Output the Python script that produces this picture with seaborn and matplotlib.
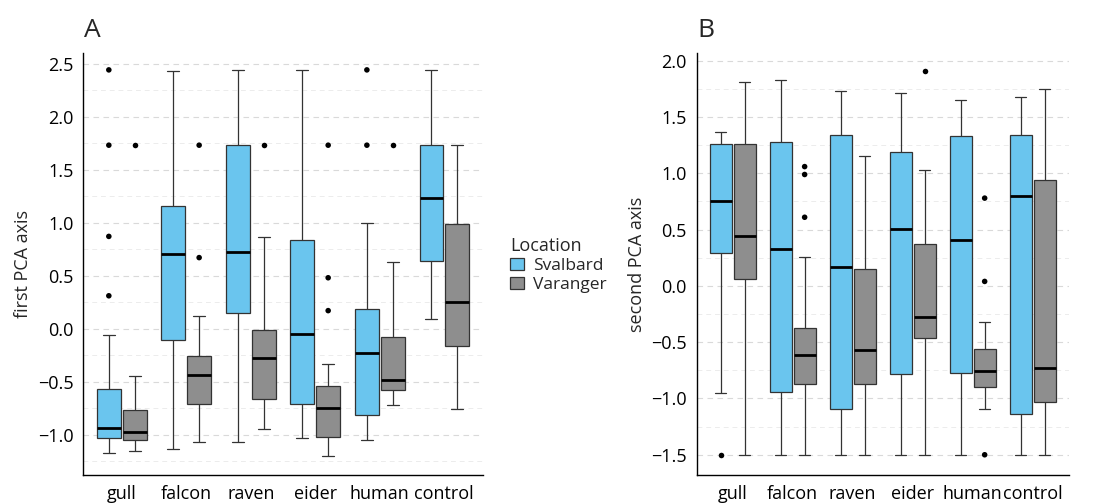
import numpy as np
import pandas as pd
import matplotlib
matplotlib.use("Agg")
import matplotlib.pyplot as plt
from matplotlib.ticker import MultipleLocator
from matplotlib.patches import Patch
import seaborn as sns

categories = ["gull", "falcon", "raven", "eider", "human", "control"]
locations = ["Svalbard", "Varanger"]

# Panel A (first PCA axis): five-number summaries per category
a_sv_lo  = [-1.17, -1.13, -1.07, -1.03, -1.05, 0.09]
a_sv_q1  = [-1.03, -0.11, 0.15, -0.71, -0.81, 0.64]
a_sv_med = [-0.94, 0.70, 0.72, -0.05, -0.23, 1.23]
a_sv_q3  = [-0.57, 1.16, 1.73, 0.84, 0.19, 1.73]
a_sv_hi  = [-0.06, 2.43, 2.44, 2.44, 1.00, 2.44]

a_va_lo  = [-1.15, -1.07, -0.95, -1.20, -0.72, -0.76]
a_va_q1  = [-1.05, -0.71, -0.66, -1.02, -0.58, -0.16]
a_va_med = [-0.97, -0.44, -0.28, -0.75, -0.48, 0.25]
a_va_q3  = [-0.77, -0.26, -0.01, -0.54, -0.08, 0.99]
a_va_hi  = [-0.45, 0.12, 0.86, -0.33, 0.63, 1.73]

a_out_cat = ["gull", "gull", "gull", "gull", "gull", "falcon", "falcon", "raven",
             "eider", "eider", "eider", "human", "human", "human"]
a_out_loc = ["Svalbard", "Svalbard", "Svalbard", "Svalbard", "Varanger", "Varanger", "Varanger",
             "Varanger", "Varanger", "Varanger", "Varanger", "Svalbard", "Svalbard", "Varanger"]
a_out_val = [0.31, 0.87, 1.73, 2.44, 1.73, 1.73, 0.67, 1.73, 1.73, 0.48, 0.17, 2.44, 1.73, 1.73]

# Panel B (second PCA axis)
b_sv_lo  = [-0.95, -1.50, -1.50, -1.50, -1.50, -1.50]
b_sv_q1  = [0.29, -0.94, -1.09, -0.78, -0.77, -1.14]
b_sv_med = [0.75, 0.33, 0.17, 0.51, 0.41, 0.80]
b_sv_q3  = [1.26, 1.28, 1.34, 1.19, 1.33, 1.34]
b_sv_hi  = [1.37, 1.83, 1.73, 1.71, 1.65, 1.68]

b_va_lo  = [-1.50, -1.50, -1.50, -1.50, -1.09, -1.50]
b_va_q1  = [0.06, -0.87, -0.87, -0.46, -0.90, -1.03]
b_va_med = [0.44, -0.61, -0.57, -0.28, -0.76, -0.73]
b_va_q3  = [1.26, -0.37, 0.15, 0.37, -0.56, 0.94]
b_va_hi  = [1.81, 0.26, 1.15, 1.03, -0.32, 1.75]

b_out_cat = ["gull", "falcon", "falcon", "falcon", "eider", "human", "human", "human"]
b_out_loc = ["Svalbard", "Varanger", "Varanger", "Varanger", "Varanger", "Varanger", "Varanger", "Varanger"]
b_out_val = [-1.50, 1.06, 0.99, 0.61, 1.91, 0.78, 0.04, -1.50]

colors = {"Svalbard": "#6AC5EE", "Varanger": "#8E8E8E"}


def long_frame(sv, va):
    rows = []
    for loc, stats in (("Svalbard", sv), ("Varanger", va)):
        for i, cat in enumerate(categories):
            for arr in stats:
                rows.append((cat, loc, arr[i]))
    return pd.DataFrame(rows, columns=["cat", "loc", "val"])


dfA = long_frame((a_sv_lo, a_sv_q1, a_sv_med, a_sv_q3, a_sv_hi),
                 (a_va_lo, a_va_q1, a_va_med, a_va_q3, a_va_hi))
dfB = long_frame((b_sv_lo, b_sv_q1, b_sv_med, b_sv_q3, b_sv_hi),
                 (b_va_lo, b_va_q1, b_va_med, b_va_q3, b_va_hi))
outA = pd.DataFrame({"cat": a_out_cat, "loc": a_out_loc, "val": a_out_val})
outB = pd.DataFrame({"cat": b_out_cat, "loc": b_out_loc, "val": b_out_val})

sns.set_style("white")
plt.rcParams["font.family"] = ["Open Sans", "DejaVu Sans"]

fig = plt.figure(figsize=(11.04, 5.04), dpi=100)
axA = fig.add_axes([0.0752, 0.0575, 0.3623, 0.8375])
axB = fig.add_axes([0.631, 0.0575, 0.337, 0.8375])


def draw(ax, df, out, ylim, ylabel, letter, lx):
    sns.boxplot(data=df, x="cat", y="val", hue="loc", order=categories,
                hue_order=locations, palette=colors, saturation=1, whis=(0, 100),
                width=0.8, gap=0.08, linewidth=0.9, linecolor="#333333",
                medianprops=dict(color="black", linewidth=2.0),
                legend=False, ax=ax)
    sns.stripplot(data=out, x="cat", y="val", hue="loc", order=categories,
                  hue_order=locations, dodge=True, jitter=False,
                  palette={"Svalbard": "black", "Varanger": "black"},
                  size=4, legend=False, ax=ax, zorder=5)
    ax.set_ylim(*ylim)
    ax.set_xlim(-0.6, 5.6)
    ax.yaxis.set_major_locator(MultipleLocator(0.5))
    ax.yaxis.set_minor_locator(MultipleLocator(0.25))
    ax.grid(which="major", axis="y", color="#D9D9D9", linestyle=(0, (5, 4)), linewidth=0.8)
    ax.grid(which="minor", axis="y", color="#ECECEC", linestyle=(0, (5, 4)), linewidth=0.7)
    ax.set_axisbelow(True)
    for s in ("top", "right"):
        ax.spines[s].set_visible(False)
    for s in ("left", "bottom"):
        ax.spines[s].set_color("black")
        ax.spines[s].set_linewidth(1.0)
    ax.tick_params(axis="both", which="major", length=4, width=0.8, color="#555555",
                   labelsize=13, labelcolor="black", pad=3)
    ax.tick_params(axis="y", which="minor", length=0)
    ax.set_xlabel("")
    ax.set_ylabel(ylabel, fontsize=13, labelpad=4)
    fig.text(lx, 0.965, letter, fontsize=19, va="top", ha="left")


draw(axA, dfA, outA, (-1.38, 2.6), "first PCA axis", "A", 0.076)
draw(axB, dfB, outB, (-1.68, 2.07), "second PCA axis", "B", 0.632)

handles = [Patch(facecolor=colors[l], edgecolor="#333333", linewidth=0.9, label=l) for l in locations]
leg = fig.legend(handles=handles, title="Location", loc="upper left",
                 bbox_to_anchor=(0.448, 0.56), frameon=False, fontsize=12.5,
                 title_fontsize=13, handlelength=0.8, handleheight=0.7,
                 handletextpad=0.5, labelspacing=0.15)
leg._legend_box.align = "left"

fig.savefig("out.png", dpi=100)
